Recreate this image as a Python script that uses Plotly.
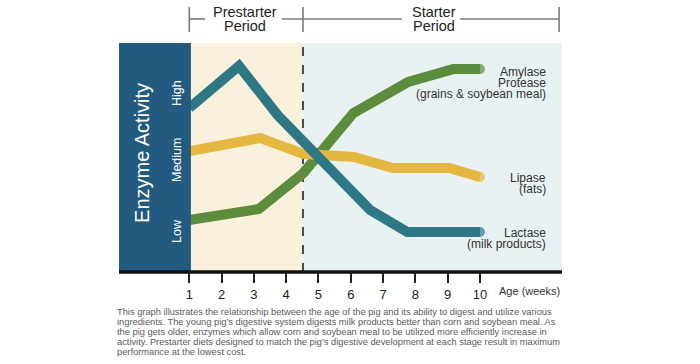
import plotly.graph_objects as go

# ---------------- data ----------------
tick_weeks = [1, 2, 3, 4, 5, 6, 7, 8, 9, 10]
tick_labels = [str(w) for w in tick_weeks]

lactase_weeks = [1, 2.54, 3.73, 6.6, 7.75, 10]
lactase_vals = [71.6, 90.0, 68.6, 27.1, 17.5, 17.5]

lipase_weeks = [1, 3.2, 4.55, 6.1, 7.3, 9.05, 10]
lipase_vals = [52.8, 58.5, 51.5, 50.2, 45.4, 45.4, 41.5]

amylase_weeks = [1, 3.15, 4.53, 6.08, 7.78, 9.17, 10]
amylase_vals = [22.7, 27.5, 43.2, 69.4, 83.0, 88.6, 88.6]

level_labels = ["Low", "Medium", "High"]
level_pos = [0.179, 0.489, 0.782]

period_names = [("Prestarter", "Period"), ("Starter", "Period")]
period_centers = [2.71, 8.59]
period_boundary = 4.5

amylase_label = ["Amylase", "Protease", "(grains & soybean meal)"]
lipase_label = ["Lipase", "(fats)"]
lactase_label = ["Lactase", "(milk products)"]

caption_lines = [
    "This graph illustrates the relationship between the age of the pig and its ability to digest and utilize various",
    "ingredients. The young pig\u2019s digestive system digests milk products better than corn and soybean meal. As",
    "the pig gets older, enzymes which allow corn and soybean meal to be utilized more efficiently increase in",
    "activity. Prestarter diets designed to match the pig\u2019s digestive development at each stage result in maximum",
    "performance at the lowest cost.",
]

# ---------------- styles ----------------
FONT = "Liberation Sans, Arial, sans-serif"
TEAL = "#2e7886"
GOLD = "#e4b740"
GREEN = "#5b8d3d"
PANEL = "#235a7f"
CREAM = "#faf1dc"
LIGHT = "#e9f2f3"
LW = 10
XMIN, XMAX = -1.176, 12.54

fig = go.Figure()


def add_line(xs, ys, color):
    n = len(xs)
    fig.add_trace(go.Scatter(
        x=xs, y=ys, mode="lines+markers",
        line=dict(color=color, width=LW),
        marker=dict(size=[0] * (n - 1) + [LW], color=color, line=dict(width=0)),
        hoverinfo="skip", showlegend=False))


add_line(amylase_weeks, amylase_vals, GREEN)
add_line(lipase_weeks, lipase_vals, GOLD)
add_line(lactase_weeks, lactase_vals, TEAL)

shapes = []
shapes.append(dict(type="rect", xref="x", yref="paper", x0=1.05, x1=period_boundary, y0=0, y1=1,
                   fillcolor=CREAM, line=dict(width=0), layer="below"))
shapes.append(dict(type="rect", xref="x", yref="paper", x0=period_boundary, x1=XMAX, y0=0, y1=1,
                   fillcolor=LIGHT, line=dict(width=0), layer="below"))
shapes.append(dict(type="line", xref="x", yref="paper", x0=period_boundary + 0.02, x1=period_boundary + 0.02,
                   y0=0, y1=1, line=dict(color="#4a4a4a", width=2, dash="dash"), layer="below"))
shapes.append(dict(type="rect", xref="x", yref="paper", x0=XMIN, x1=1.05, y0=0, y1=1,
                   fillcolor=PANEL, line=dict(width=0), layer="above"))
shapes.append(dict(type="line", xref="paper", yref="paper", x0=0, x1=1, y0=0, y1=0,
                   line=dict(color="#111111", width=3.5), layer="above"))
BR = dict(color="#7a7a7a", width=1.6)
yb, yt, ym = 1.048, 1.157, 1.105
for xv in [1, 4.52, 12.45]:
    shapes.append(dict(type="line", xref="x", yref="paper", x0=xv, x1=xv, y0=yb, y1=yt, line=BR))
for a, b in [(1, 1.49), (3.87, 7.58), (9.38, 12.45)]:
    shapes.append(dict(type="line", xref="x", yref="paper", x0=a, x1=b, y0=ym, y1=ym, line=BR))

ann = []
ann.append(dict(text="Enzyme Activity", x=-0.464, y=0.52, xref="x", yref="paper", textangle=-90,
                showarrow=False, font=dict(family=FONT, size=20, color="white"),
                xanchor="center", yanchor="middle"))
for lab, pos in zip(level_labels, level_pos):
    ann.append(dict(text=lab, x=0.62, y=pos, xref="x", yref="paper", textangle=-90,
                    showarrow=False, font=dict(family=FONT, size=12.5, color="white"),
                    xanchor="center", yanchor="middle"))
for (l1, l2), cx in zip(period_names, period_centers):
    ann.append(dict(text=l1, x=cx, y=1.135, xref="x", yref="paper", showarrow=False,
                    font=dict(family=FONT, size=14.5, color="#222"), xanchor="center", yanchor="middle"))
    ann.append(dict(text=l2, x=cx, y=1.074, xref="x", yref="paper", showarrow=False,
                    font=dict(family=FONT, size=14.5, color="#222"), xanchor="center", yanchor="middle"))


def add_label(lines, ys):
    for t, yv in zip(lines, ys):
        ann.append(dict(text=t, x=12.12, y=yv, xref="x", yref="paper", showarrow=False,
                        font=dict(family=FONT, size=12, color="#333"), xanchor="right", yanchor="middle"))


add_label(amylase_label, [0.873, 0.826, 0.778])
add_label(lipase_label, [0.410, 0.363])
add_label(lactase_label, [0.170, 0.123])

ann.append(dict(text="Age (weeks)", x=1, y=-0.083, xref="paper", yref="paper", showarrow=False,
                font=dict(family=FONT, size=11, color="#333"), xanchor="right", yanchor="middle"))

# caption lines: centres at 311.5 + i*10.1 px  -> paper y = (272 - py)/229
for i, t in enumerate(caption_lines):
    py = 311.5 + i * 10.1
    ann.append(dict(text=t, x=-0.008, y=(272 - py) / 229, xref="paper", yref="paper", showarrow=False,
                    align="left", font=dict(family=FONT, size=9.3, color="#5a5a5a"),
                    xanchor="left", yanchor="middle"))

fig.update_layout(
    width=700, height=364, autosize=False,
    margin=dict(l=119, r=138, t=43, b=92, pad=0),
    paper_bgcolor="white", plot_bgcolor="rgba(0,0,0,0)",
    shapes=shapes, annotations=ann, showlegend=False,
    xaxis=dict(range=[XMIN, XMAX], tickmode="array", tickvals=tick_weeks, ticktext=tick_labels,
               ticks="outside", ticklen=10, tickwidth=1.5, tickcolor="#222",
               tickfont=dict(family=FONT, size=13, color="#222"),
               showgrid=False, zeroline=False, showline=False, fixedrange=True),
    yaxis=dict(range=[0, 100], showgrid=False, zeroline=False, showticklabels=False,
               showline=False, ticks="", fixedrange=True),
)

fig.write_html("out.html", config={"displayModeBar": False},
               post_script="document.body.style.margin='0';document.body.style.overflow='hidden';")
